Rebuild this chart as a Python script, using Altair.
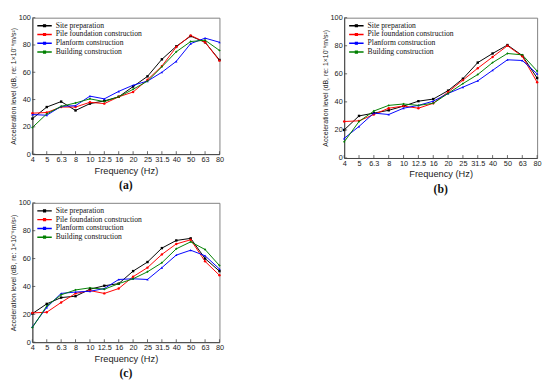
import altair as alt
import pandas as pd

freqs = ["4", "5", "6.3", "8", "10", "12.5", "16", "20", "25", "31.5", "40", "50", "63", "80"]
series = ["Site preparation", "Pile foundation construction", "Planform construction", "Building construction"]
colors = ["#000000", "#ff0000", "#0000ff", "#008000"]
shapes = ["square", "circle", "triangle-up", "diamond"]
y_ticks = [0, 20, 40, 60, 80, 100]

# Panel (a)
a_site = [26, 34.5, 38.5, 32, 37, 39, 42, 49.5, 57, 69.5, 79, 86.5, 82, 69]
a_pile = [30, 30.5, 34.5, 34.5, 38, 37, 42, 45.5, 54.5, 64.5, 78.5, 87, 82, 68.5]
a_plan = [29, 28.5, 35, 35.5, 42.5, 40.5, 46, 50.5, 53.5, 60, 68, 81, 85, 82]
a_build = [19.5, 29.5, 35, 37.5, 40.5, 38.5, 42, 47.5, 53.5, 64, 75, 82.5, 83.5, 76]

# Panel (b)
b_site = [20, 30, 32, 34, 37, 40.5, 42, 48, 56.5, 68, 74.5, 80.5, 73, 57]
b_pile = [26, 26.5, 31, 35.5, 37, 35.5, 39, 47, 55.5, 64, 72, 80, 72.5, 54]
b_plan = [14, 22.5, 32, 31, 35.5, 37.5, 40.5, 46, 50.5, 55, 62.5, 70, 69.5, 60]
b_build = [11.5, 26, 33.5, 37.5, 38.5, 37.5, 39, 46, 53, 59.5, 68, 74.5, 73.5, 62]

# Panel (c)
c_site = [20.5, 27.5, 32, 33, 38, 40.5, 42, 51, 57.5, 67.5, 73, 74.5, 60, 51]
c_pile = [21, 21.5, 28.5, 35, 37, 35, 38.5, 47, 53.5, 63, 70.5, 73.5, 58, 48]
c_plan = [11, 25, 35, 36, 36.5, 38.5, 45, 45.5, 45, 53.5, 62.5, 66, 62, 52.5]
c_build = [10.5, 26, 34, 37.5, 39, 38, 42, 45.5, 50.5, 57, 67, 72, 66.5, 55]

Y_TITLE = "Acceleration level (dB, re: 1×10⁻⁶m/s²)"
LEGEND_SYMBOL = "M-1,0H1M-0.12,-0.12H0.12V0.12H-0.12Z"


def panel(vals, w, h, caption):
    rows = []
    for s, arr in zip(series, vals):
        for f, v in zip(freqs, arr):
            rows.append({"freq": f, "series": s, "level": v})
    df = pd.DataFrame(rows)
    x = alt.X("freq:N", sort=freqs, scale=alt.Scale(type="point", padding=0),
              axis=alt.Axis(title="Frequency (Hz)", labelAngle=0, labelOverlap=False))
    y = alt.Y("level:Q", scale=alt.Scale(domain=[0, 100], nice=False),
              axis=alt.Axis(values=y_ticks, title=Y_TITLE,
                            labelOverlap=False, labelFlush=False))
    color = alt.Color("series:N", sort=series,
                      scale=alt.Scale(domain=series, range=colors),
                      legend=alt.Legend(title=None, symbolType=LEGEND_SYMBOL))
    lines = alt.Chart(df).mark_line(strokeWidth=1).encode(x=x, y=y, color=color)
    pts = alt.Chart(df).mark_point(filled=True, size=6, opacity=1).encode(
        x=x, y=y, color=color,
        shape=alt.Shape("series:N", scale=alt.Scale(domain=series, range=shapes), legend=None))
    xt = alt.Chart(pd.DataFrame({"freq": freqs})).mark_rule(color="#444", strokeWidth=0.8).encode(
        x=x, y=alt.value(h), y2=alt.value(h - 3))
    yt = alt.Chart(pd.DataFrame({"level": y_ticks})).mark_rule(color="#444", strokeWidth=0.8).encode(
        y=y, x=alt.value(0), x2=alt.value(3))
    return alt.layer(lines, pts, xt, yt).properties(
        width=w, height=h,
        title=alt.TitleParams(caption, orient="bottom", anchor="middle"))


pa = panel([a_site, a_pile, a_plan, a_build], 192, 140, "(a)")
pb = panel([b_site, b_pile, b_plan, b_build], 198, 144, "(b)")
pc = panel([c_site, c_pile, c_plan, c_build], 192, 143, "(c)")

row = alt.hconcat(pa, pb, spacing=98).resolve_legend(color="independent")
chart = alt.vconcat(row, pc, spacing=2).resolve_legend(color="independent").properties(
    padding=0
).configure_view(
    stroke="#808080", strokeWidth=1
).configure_axis(
    labelFont="Liberation Sans", labelFontSize=7.5, labelColor="#222",
    titleFont="Liberation Sans", titleFontWeight="normal", titleColor="#222",
    domainColor="#444", ticks=False, grid=False, labelPadding=2, titlePadding=2
).configure_axisX(
    titleFontSize=9.5
).configure_axisY(
    titleFontSize=7.1
).configure_legend(
    orient="top-left", offset=4, padding=0,
    labelFont="Liberation Serif", labelFontSize=7.8, labelColor="#111",
    symbolSize=220, symbolStrokeWidth=1.5, rowPadding=0, labelOffset=3, clipHeight=8.5
).configure_title(
    font="Liberation Serif", fontSize=12, fontWeight="bold", offset=6, color="#111"
)

chart.save("out.html", embed_options={"renderer": "svg", "actions": False})
